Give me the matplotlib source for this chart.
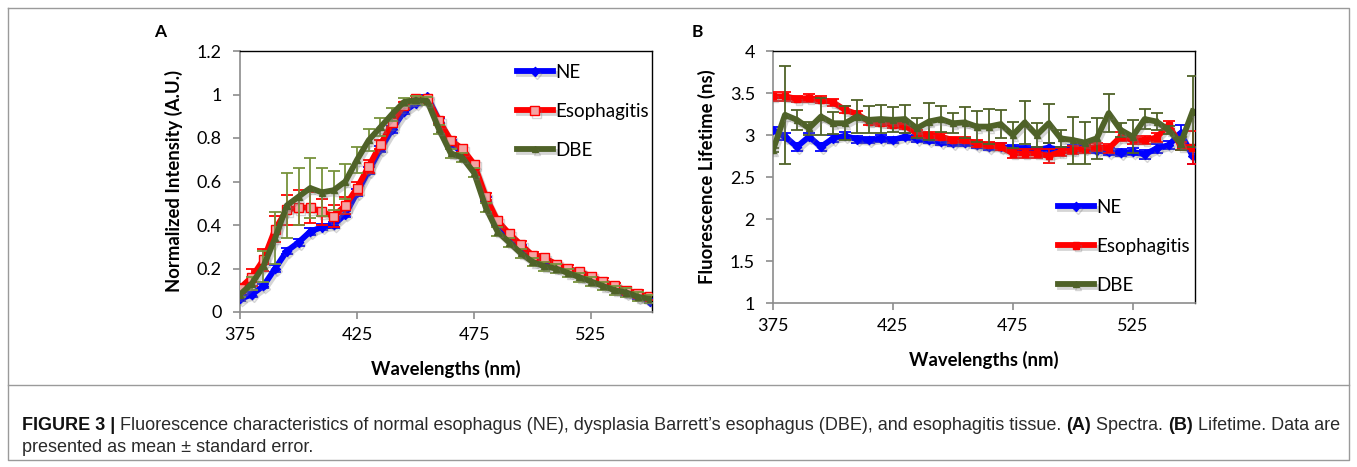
import matplotlib
matplotlib.use("Agg")
import matplotlib.pyplot as plt
import matplotlib.patheffects as pe
from matplotlib.lines import Line2D

# wavelengths (nm)
wl = [375, 380, 385, 390, 395, 400, 405, 410, 415, 420, 425, 430,
      435, 440, 445, 450, 455, 460, 465, 470, 475, 480, 485, 490,
      495, 500, 505, 510, 515, 520, 525, 530, 535, 540, 545, 550]

# panel A - normalized spectra
spec_ne = [0.06, 0.08, 0.12, 0.20, 0.28, 0.32, 0.37, 0.39, 0.40, 0.45, 0.55, 0.65,
           0.75, 0.84, 0.92, 0.96, 0.99, 0.88, 0.78, 0.73, 0.67, 0.52, 0.41, 0.35,
           0.30, 0.25, 0.23, 0.21, 0.19, 0.17, 0.16, 0.13, 0.11, 0.09, 0.07, 0.05]
spec_es = [0.11, 0.16, 0.24, 0.38, 0.47, 0.48, 0.48, 0.46, 0.44, 0.49, 0.57, 0.67,
           0.77, 0.87, 0.95, 0.98, 0.98, 0.88, 0.79, 0.75, 0.68, 0.53, 0.42, 0.36,
           0.31, 0.26, 0.25, 0.22, 0.20, 0.185, 0.165, 0.14, 0.12, 0.10, 0.085, 0.07]
spec_dbe = [0.08, 0.13, 0.21, 0.34, 0.49, 0.53, 0.57, 0.55, 0.56, 0.60, 0.70, 0.79,
            0.85, 0.91, 0.965, 0.975, 0.97, 0.84, 0.73, 0.71, 0.64, 0.48, 0.37, 0.32,
            0.27, 0.23, 0.21, 0.20, 0.18, 0.16, 0.14, 0.12, 0.10, 0.09, 0.07, 0.06]
spec_ne_err = [0.01, 0.01, 0.01, 0.015, 0.015, 0.015, 0.015, 0.015, 0.015, 0.015, 0.015, 0.015,
               0.015, 0.015, 0.01, 0.01, 0.01, 0.01, 0.01, 0.01, 0.01, 0.01, 0.01, 0.01,
               0.01, 0.01, 0.01, 0.01, 0.01, 0.01, 0.01, 0.01, 0.01, 0.01, 0.01, 0.01]
spec_es_err = [0.02, 0.04, 0.05, 0.06, 0.07, 0.08, 0.07, 0.06, 0.05, 0.04, 0.03, 0.03,
               0.02, 0.02, 0.015, 0.015, 0.015, 0.015, 0.015, 0.015, 0.015, 0.015, 0.015, 0.015,
               0.015, 0.015, 0.015, 0.015, 0.015, 0.015, 0.015, 0.015, 0.015, 0.015, 0.015, 0.015]
spec_dbe_err = [0.01, 0.03, 0.07, 0.12, 0.15, 0.13, 0.14, 0.11, 0.09, 0.08, 0.06, 0.05,
                0.04, 0.03, 0.02, 0.02, 0.02, 0.02, 0.02, 0.02, 0.02, 0.02, 0.02, 0.02,
                0.02, 0.02, 0.02, 0.02, 0.02, 0.02, 0.02, 0.02, 0.02, 0.02, 0.02, 0.02]

# panel B - lifetime (ns)
life_ne = [3.06, 2.98, 2.86, 2.98, 2.86, 2.96, 2.99, 2.95, 2.94, 2.96, 2.94, 2.98,
           2.96, 2.94, 2.92, 2.91, 2.91, 2.88, 2.86, 2.86, 2.84, 2.83, 2.82, 2.85,
           2.82, 2.84, 2.85, 2.82, 2.80, 2.79, 2.80, 2.77, 2.84, 2.88, 3.02, 2.75]
life_es = [3.46, 3.46, 3.43, 3.44, 3.42, 3.39, 3.30, 3.25, 3.16, 3.15, 3.12, 3.11,
           3.02, 3.00, 2.98, 2.94, 2.94, 2.90, 2.88, 2.86, 2.78, 2.78, 2.78, 2.75,
           2.80, 2.82, 2.84, 2.86, 2.84, 2.98, 2.94, 2.94, 2.97, 3.12, 2.87, 2.85]
life_dbe = [2.82, 3.24, 3.18, 3.08, 3.22, 3.14, 3.14, 3.22, 3.18, 3.19, 3.18, 3.19,
            3.08, 3.16, 3.19, 3.14, 3.15, 3.10, 3.10, 3.13, 3.00, 3.15, 3.00, 3.14,
            2.96, 2.94, 2.91, 2.96, 3.26, 3.06, 2.98, 3.19, 3.16, 3.06, 2.90, 3.28]
life_ne_err = [0.04, 0.04, 0.05, 0.04, 0.05, 0.04, 0.04, 0.04, 0.04, 0.04, 0.04, 0.04,
               0.04, 0.04, 0.04, 0.04, 0.04, 0.04, 0.04, 0.04, 0.04, 0.04, 0.04, 0.05,
               0.04, 0.04, 0.04, 0.04, 0.04, 0.04, 0.04, 0.05, 0.05, 0.05, 0.10, 0.10]
life_es_err = [0.05, 0.05, 0.04, 0.05, 0.04, 0.04, 0.04, 0.04, 0.04, 0.04, 0.04, 0.04,
               0.04, 0.04, 0.04, 0.04, 0.04, 0.04, 0.04, 0.04, 0.05, 0.05, 0.05, 0.08,
               0.05, 0.05, 0.05, 0.05, 0.05, 0.05, 0.05, 0.05, 0.05, 0.05, 0.05, 0.20]
life_dbe_err = [0.02, 0.58, 0.12, 0.08, 0.22, 0.13, 0.20, 0.20, 0.16, 0.17, 0.15, 0.17,
                0.12, 0.22, 0.16, 0.12, 0.18, 0.18, 0.21, 0.17, 0.16, 0.26, 0.14, 0.23,
                0.10, 0.28, 0.25, 0.24, 0.23, 0.08, 0.20, 0.12, 0.10, 0.05, 0.08, 0.42]

labels = ["NE", "Esophagitis", "DBE"]
xticks = [375, 425, 475, 525]

plt.rcParams['font.family'] = ['Lato', 'DejaVu Sans']

W, H = 1357, 467
fig = plt.figure(figsize=(W / 100, H / 100), dpi=100)


def px_axes(l, t, r, b):
    return fig.add_axes([l / W, 1 - b / H, (r - l) / W, (b - t) / H])


shadow = [pe.SimpleLineShadow(offset=(1.5, -2), shadow_color='#777777', alpha=0.3), pe.Normal()]


def style_axes(ax):
    for s in ['left', 'bottom']:
        ax.spines[s].set_color('#8c8c8c')
        ax.spines[s].set_linewidth(1.2)
    for s in ['top', 'right']:
        ax.spines[s].set_color('black')
        ax.spines[s].set_linewidth(1.0)
    ax.tick_params(axis='both', direction='out', length=5, width=1.2, color='#8c8c8c',
                   labelsize=13, labelcolor='black')
    ax.tick_params(axis='y', pad=8)
    ax.tick_params(axis='x', pad=6)
    ax.set_xticks(xticks)
    ax.set_xlim(375, 551)


def draw_series(ax, y, err, color, ecolor, marker, ms, mfc, z):
    ax.errorbar(wl, y, yerr=err, fmt='none', ecolor=ecolor, elinewidth=1.3,
                capsize=4, capthick=1.3, zorder=z)
    ln, = ax.plot(wl, y, color=color, lw=4.2, marker=marker, ms=ms, mfc=mfc,
                  mec=color, mew=1, zorder=z + 0.5, path_effects=shadow)
    return ln


leg_kw = dict(bbox_transform=fig.transFigure, loc='upper left', frameon=False,
              fontsize=13.5, borderpad=0, borderaxespad=0, handlelength=1.9,
              handletextpad=0.13, labelspacing=1.17)

# ---- panel A ----
axA = px_axes(240, 51, 652, 312)
style_axes(axA)
axA.set_ylim(0, 1.2)
axA.set_yticks([0, 0.2, 0.4, 0.6, 0.8, 1.0, 1.2])
axA.set_yticklabels(["0", "0.2", "0.4", "0.6", "0.8", "1", "1.2"])
hA = [draw_series(axA, spec_ne, spec_ne_err, '#0000ff', '#0000ff', 'D', 4.5, '#0000ff', 3),
      draw_series(axA, spec_es, spec_es_err, '#ff0000', '#ff0000', 's', 6.5, '#f4a3a3', 4),
      draw_series(axA, spec_dbe, spec_dbe_err, '#4f6228', '#77933c', '^', 4.5, '#4f6228', 5)]
axA.set_ylabel("Normalized Intensity (A.U.)", fontsize=13.3, fontweight='bold', labelpad=10)
axA.set_xlabel("Wavelengths (nm)", fontsize=13.3, fontweight='bold', labelpad=12)
axA.legend(hA, labels, bbox_to_anchor=(517 / W, 1 - 64 / H), **leg_kw)

# ---- panel B ----
axB = px_axes(773, 51, 1195, 303)
style_axes(axB)
axB.set_ylim(1, 4)
axB.set_yticks([1, 1.5, 2, 2.5, 3, 3.5, 4])
axB.set_yticklabels(["1", "1.5", "2", "2.5", "3", "3.5", "4"])
hB = [draw_series(axB, life_ne, life_ne_err, '#0000ff', '#0000ff', 'D', 4.5, '#0000ff', 3),
      draw_series(axB, life_es, life_es_err, '#ff0000', '#ff0000', 's', 4.5, '#ff0000', 4),
      draw_series(axB, life_dbe, life_dbe_err, '#4f6228', '#4f6228', '^', 4.5, '#4f6228', 5)]
axB.set_ylabel("Fluorescence Lifetime (ns)", fontsize=13.3, fontweight='bold', labelpad=10)
axB.set_xlabel("Wavelengths (nm)", fontsize=13.3, fontweight='bold', labelpad=12)
axB.legend(hB, labels, bbox_to_anchor=(1058 / W, 1 - 199 / H), **leg_kw)

fig.text(160 / W, 1 - 32 / H, "A", fontsize=12.5, fontweight='bold', ha='center', va='center')
fig.text(697 / W, 1 - 32 / H, "B", fontsize=12.5, fontweight='bold', ha='center', va='center')

# frame and separator
fcol = '#9a9a9a'
fig.add_artist(Line2D([8 / W, 1349 / W, 1349 / W, 8 / W, 8 / W],
                      [1 - 8 / H, 1 - 8 / H, 1 - 460 / H, 1 - 460 / H, 1 - 8 / H],
                      transform=fig.transFigure, color=fcol, lw=1))
fig.add_artist(Line2D([8 / W, 1349 / W], [1 - 385 / H, 1 - 385 / H],
                      transform=fig.transFigure, color=fcol, lw=1))

# caption
cap_fam = ['Liberation Sans Narrow', 'Liberation Sans']
line1 = [("FIGURE 3 |", 'bold', '#111111'),
         (" Fluorescence characteristics of normal esophagus (NE), dysplasia Barrett\u2019s "
          "esophagus (DBE), and esophagitis tissue. ", 'normal', '#2a2a2a'),
         ("(A)", 'bold', '#111111'), (" Spectra. ", 'normal', '#2a2a2a'),
         ("(B)", 'bold', '#111111'), (" Lifetime. Data are", 'normal', '#2a2a2a')]
line2 = [("presented as mean \u00b1 standard error.", 'normal', '#2a2a2a')]

renderer = fig.canvas.get_renderer()


def draw_runs(runs, x0, yc, size):
    x = x0
    for s, w, c in runs:
        t = fig.text(x / W, 1 - yc / H, s, fontsize=size, fontweight=w, color=c,
                     family=cap_fam, ha='left', va='center')
        x += t.get_window_extent(renderer).width
    return x


# measure line 1 at a trial size, then scale to span the caption width
probe = fig.text(0, 0, "".join(r[0] for r in line1), fontsize=12, family=cap_fam)
wprobe = probe.get_window_extent(renderer).width
probe.remove()
cap_size = 12 * (1337 - 22) / wprobe
draw_runs(line1, 22, 425, cap_size)
draw_runs(line2, 22, 447, cap_size)

fig.savefig("out.png", dpi=100)
